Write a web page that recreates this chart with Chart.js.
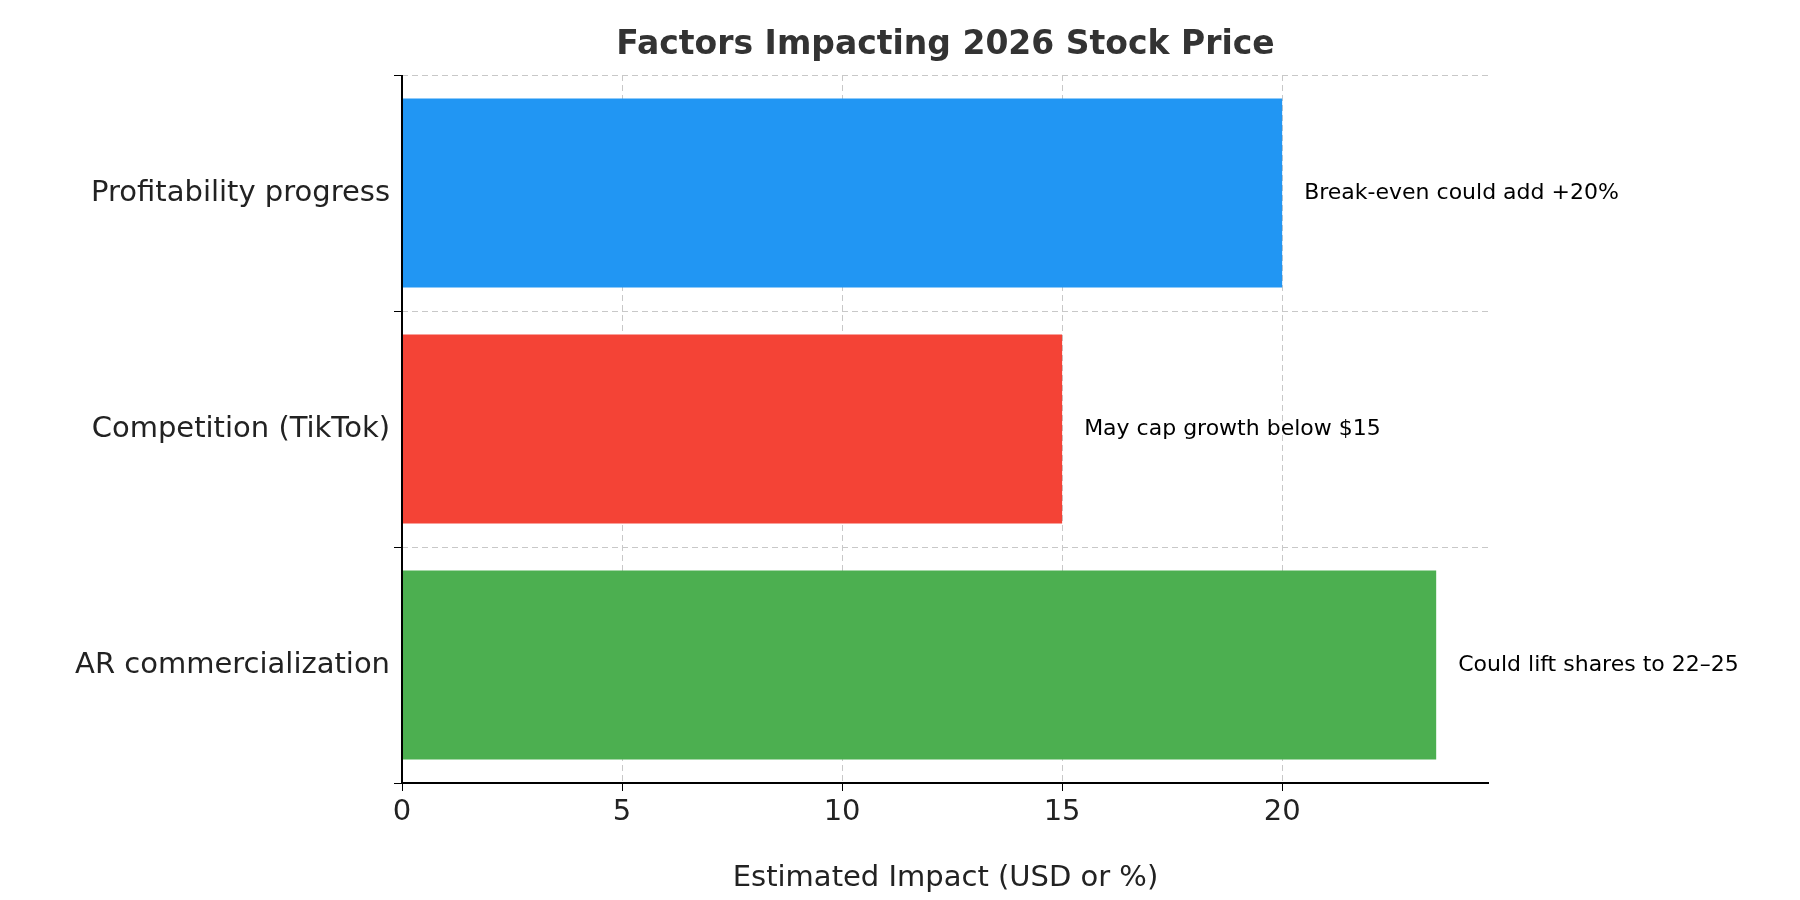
<!DOCTYPE html>
<html><head><meta charset="utf-8">
<script src="https://cdn.jsdelivr.net/npm/chart.js@4/dist/chart.umd.min.js"></script>
<style>body{margin:0;background:#fff}canvas{display:block}</style>
</head><body>
<canvas id="c" width="1800" height="900"></canvas>
<script>
const categories = ["Profitability progress", "Competition (TikTok)", "AR commercialization"];
const values = [20, 15, 23.5];
const colors = ["#2196F3", "#F44336", "#4CAF50"];
const notes = ["Break-even could add +20%", "May cap growth below $15", "Could lift shares to 22–25"];
const xTicks = [0, 5, 10, 15, 20];
const FONT = "'DejaVu Sans', sans-serif";

const deco = {
  id: 'deco',
  afterDraw(chart) {
    const ctx = chart.ctx, xs = chart.scales.x, ys = chart.scales.y;
    ctx.save();
    ctx.fillStyle = '#333';
    ctx.font = "bold 33px " + FONT;
    ctx.textAlign = 'center'; ctx.textBaseline = 'middle';
    ctx.fillText("Factors Impacting 2026 Stock Price", (xs.left + xs.right) / 2, 45);
    ctx.font = "22px " + FONT;
    ctx.fillStyle = '#000';
    ctx.textAlign = 'left';
    values.forEach((v, i) => {
      ctx.fillText(notes[i], xs.getPixelForValue(v + 0.5), ys.getPixelForValue(i));
    });
    ctx.strokeStyle = '#000'; ctx.lineWidth = 2;
    ctx.beginPath();
    ctx.moveTo(xs.left, ys.top); ctx.lineTo(xs.left, ys.bottom); ctx.lineTo(xs.right, ys.bottom);
    ctx.stroke();
    ctx.restore();
  }
};

new Chart(document.getElementById('c'), {
  type: 'bar',
  data: { labels: categories, datasets: [{ data: values, backgroundColor: colors, barPercentage: 0.8, categoryPercentage: 1 }] },
  options: {
    indexAxis: 'y', responsive: false, animation: false,
    layout: { padding: { top: 75, right: 311, left: 0, bottom: 0 } },
    plugins: { legend: { display: false }, tooltip: { enabled: false } },
    scales: {
      x: {
        min: 0, max: 24.7,
        afterBuildTicks(s) { s.ticks = xTicks.map(v => ({ value: v })); },
        afterFit(s) { s.height = 117; },
        grid: { color: '#c8c8c8', drawTicks: true, tickColor: '#000', tickLength: 8, tickBorderDash: [], },
        border: { display: false, dash: [6, 4] },
        ticks: { color: '#222', font: { family: FONT, size: 29 }, padding: 4, maxRotation: 0 },
        title: { display: true, text: "Estimated Impact (USD or %)", color: '#222', font: { family: FONT, size: 29 }, padding: { top: 10 } }
      },
      y: {
        afterFit(s) { s.width = 402; },
        grid: { color: '#c8c8c8', tickColor: '#000', tickLength: 8 },
        border: { display: false, dash: [6, 4] },
        ticks: { color: '#222', font: { family: FONT, size: 29 }, padding: 4 }
      }
    }
  },
  plugins: [deco]
});
</script>
</body></html>
